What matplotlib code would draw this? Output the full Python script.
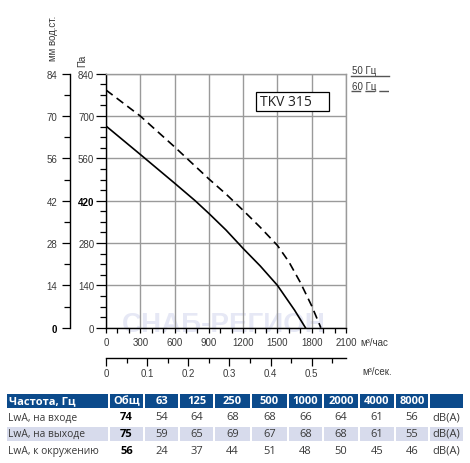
import matplotlib
matplotlib.use("Agg")
import matplotlib.pyplot as plt
from matplotlib.patches import Rectangle
from matplotlib.ticker import MultipleLocator, FixedLocator

# ---------------- data ----------------
flow_50 = [0, 300, 600, 780, 900, 1050, 1200, 1350, 1500, 1650, 1745]
pa_50 = [667, 573, 478, 420, 378, 323, 262, 204, 140, 58, 0]
flow_60 = [0, 300, 600, 900, 1050, 1200, 1350, 1500, 1600, 1700, 1800, 1880]
pa_60 = [786, 700, 598, 492, 442, 388, 332, 272, 218, 150, 72, 0]

x_ticks = [0, 300, 600, 900, 1200, 1500, 1800, 2100]
pa_ticks = [0, 140, 280, 420, 560, 700, 840]
mm_ticks = [0, 14, 28, 42, 56, 70, 84]
ms_ticks = [0, 0.1, 0.2, 0.3, 0.4, 0.5]
ms_minor = [0.05, 0.15, 0.25, 0.35, 0.45, 0.55]

model = "TKV 315"
legend_labels = ["50 Гц", "60 Гц"]

freq_header = ["Частота, Гц", "Общ", "63", "125", "250", "500",
               "1000", "2000", "4000", "8000", ""]
row_labels = ["LwA, на входе", "LwA, на выходе", "LwA, к окружению"]
total = [74, 75, 56]
lwa_in = [54, 64, 68, 68, 66, 64, 61, 56]
lwa_out = [59, 65, 69, 67, 68, 68, 61, 55]
lwa_env = [24, 37, 44, 51, 48, 50, 45, 46]
unit = "dB(A)"

# ---------------- figure ----------------
W, H = 470, 464
fig = plt.figure(figsize=(W / 100, H / 100), dpi=100)
plt.rcParams["font.family"] = ["Liberation Sans", "DejaVu Sans"]
TXT = "#3a3a3a"
GRID = "#9a9a9a"
TS = 7

L, R, T, B = 106, 346, 74.7, 328.7
ax = fig.add_axes([L / W, 1 - B / H, (R - L) / W, (B - T) / H])
ax.set_xlim(0, 2100)
ax.set_ylim(0, 840)
ax.set_facecolor("none")

ax.set_xticks(x_ticks)
ax.set_yticks(pa_ticks)
ax.xaxis.set_minor_locator(MultipleLocator(100))
ax.yaxis.set_minor_locator(MultipleLocator(35))
ax.grid(True, which="major", color=GRID, lw=1.0, zorder=1)
for s in ("top", "right"):
    ax.spines[s].set_color(GRID)
    ax.spines[s].set_linewidth(1.0)
for s in ("left", "bottom"):
    ax.spines[s].set_color("black")
    ax.spines[s].set_linewidth(1.0)
ax.tick_params(axis="y", which="major", length=7, width=0.9, pad=1.5,
               labelsize=TS, labelcolor=TXT)
ax.tick_params(axis="y", which="minor", length=4, width=0.9)
ax.tick_params(axis="x", which="both", length=3.5, width=0.9, pad=3,
               labelsize=TS, labelcolor=TXT)
ax.yaxis.get_major_ticks()[3].label1.set_fontweight("bold")
ax.yaxis.get_major_ticks()[3].label1.set_color("black")

# watermark
ax.text(1030, 12, "СНАБ-РЕГИОН", fontsize=20, fontweight="bold",
        color="#e6e8f5", ha="center", va="center", zorder=0)

ax.plot(flow_50, pa_50, color="black", lw=1.2, zorder=3)
ax.plot(flow_60, pa_60, color="black", lw=1.2, ls=(0, (5, 3)), zorder=3)

# mm water column axis
mm = ax.secondary_yaxis(-(L - 70.3) / (R - L),
                        functions=(lambda p: p / 10.0, lambda m: m * 10.0))
mm.set_yticks(mm_ticks)
mm.yaxis.set_minor_locator(MultipleLocator(7))
mm.spines["left"].set_linewidth(1.0)
mm.tick_params(axis="y", which="major", length=6, width=0.9, pad=3.5,
               labelsize=TS, labelcolor=TXT)
mm.tick_params(axis="y", which="minor", length=4, width=0.9)
mm.yaxis.get_major_ticks()[0].label1.set_fontweight("bold")
mm.yaxis.get_major_ticks()[0].label1.set_color("black")

# m3/s axis
ms = ax.secondary_xaxis(-(359 - B) / (B - T),
                        functions=(lambda q: q / 3600.0, lambda s: s * 3600.0))
ms.set_xticks(ms_ticks)
ms.set_xticklabels([f"{v:g}" for v in ms_ticks])
ms.xaxis.set_minor_locator(FixedLocator(ms_minor))
ms.spines["bottom"].set_linewidth(1.0)
ms.tick_params(axis="x", which="major", length=6, width=0.9, pad=1,
               labelsize=TS, labelcolor=TXT)
ms.tick_params(axis="x", which="minor", length=3.5, width=0.9)

# ---------------- overlay in pixel coordinates ----------------
ov = fig.add_axes([0, 0, 1, 1], zorder=5)
ov.set_xlim(0, W)
ov.set_ylim(H, 0)
ov.axis("off")
ov.patch.set_alpha(0)

ov.text(53.5, 38, "мм вод.ст.", rotation=90, ha="center", va="center",
        fontsize=TS, color=TXT)
ov.text(82, 61, "Па", rotation=90, ha="center", va="center",
        fontsize=TS, color=TXT)
ov.text(360, 343.5, "м³/час", ha="left", va="center", fontsize=TS, color=TXT)
ov.text(362, 372, "м³/сек.", ha="left", va="center", fontsize=TS, color=TXT)

# legend
ov.text(351.5, 71, legend_labels[0], ha="left", va="center", fontsize=TS, color=TXT)
ov.plot([350.7, 389], [76.7, 76.7], color="#555555", lw=1.0)
ov.text(351.5, 86.5, legend_labels[1], ha="left", va="center", fontsize=TS, color=TXT)
ov.plot([350.7, 389], [92.3, 92.3], color="#555555", lw=1.0, ls=(0, (7, 3)))

# model box
ov.add_patch(Rectangle((256, 93.3), 73.3, 18.4, facecolor="white",
                       edgecolor="black", lw=0.9, zorder=4))
ov.text(259.5, 102.8, model, ha="left", va="center", fontsize=10,
        family="Open Sans", color="#222222", zorder=5)

# ---------------- table ----------------
cols = [(7, 108), (110, 143), (145, 178), (180, 213), (215, 250), (252, 287),
        (289, 322), (324, 358), (360, 394), (396, 428), (430, 463)]
HDR = "#0b4a8b"
ROW2 = "#d7dbec"
tf = "Open Sans"
hy0, hy1 = 395, 408.5
for (x0, x1), lab in zip(cols, freq_header):
    ov.add_patch(Rectangle((x0, hy0), x1 - x0, hy1 - hy0, facecolor=HDR,
                           edgecolor="none"))
    if lab:
        if lab == freq_header[0]:
            ov.text(x0 + 2, (hy0 + hy1) / 2, lab, ha="left", va="center",
                    fontsize=8, fontweight="bold", color="white", family=tf)
        else:
            ov.text((x0 + x1) / 2, (hy0 + hy1) / 2, lab, ha="center",
                    va="center", fontsize=8, fontweight="bold",
                    color="white", family=tf)

rows = [lwa_in, lwa_out, lwa_env]
row_y = [418, 434.5, 451.5]
for i, (lab, tot, vals, yc) in enumerate(zip(row_labels, total, rows, row_y)):
    if i == 1:
        for (x0, x1) in cols:
            ov.add_patch(Rectangle((x0, yc - 7), x1 - x0, 14.5,
                                   facecolor=ROW2, edgecolor="none"))
    ov.text(cols[0][0] + 1, yc, lab, ha="left", va="center", fontsize=7.4,
            color=TXT, family=tf)
    ov.text(sum(cols[1]) / 2, yc, str(tot), ha="center", va="center",
            fontsize=8, fontweight="bold", color="black", family=tf)
    for (x0, x1), v in zip(cols[2:10], vals):
        ov.text((x0 + x1) / 2, yc, str(v), ha="center", va="center",
                fontsize=8, color=TXT, family=tf)
    ov.text(sum(cols[10]) / 2, yc, unit, ha="center", va="center",
            fontsize=8, color=TXT, family=tf)

fig.savefig("out.png", dpi=100)
